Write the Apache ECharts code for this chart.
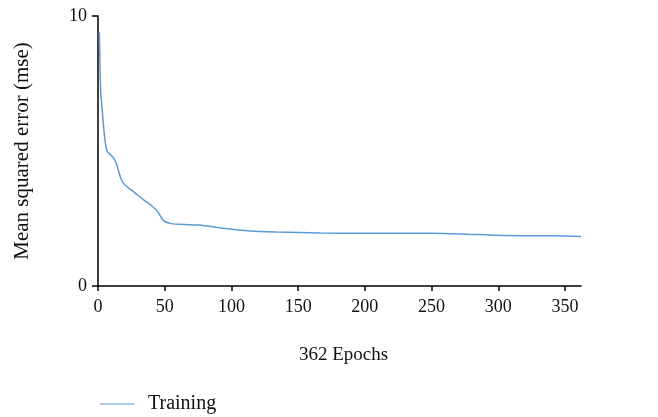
<!DOCTYPE html>
<html>
<head>
<meta charset="utf-8">
<script src="https://cdn.jsdelivr.net/npm/echarts@6/dist/echarts.min.js"></script>
<style>
  html, body { margin: 0; padding: 0; background: #fff; }
  #chart { width: 658px; height: 417px; }
</style>
</head>
<body>
<div id="chart"></div>
<script>
// Training loss curve (mean squared error per epoch)
const epochs = [1, 2, 3, 4, 5, 6, 7, 9, 12, 14, 17, 20, 27, 34, 40, 45, 49, 55, 64, 75, 82, 92, 114, 134, 167, 200, 250, 271, 303, 340, 362];
const mseValues = [9.4, 7.2, 6.6, 6.0, 5.5, 5.15, 4.98, 4.88, 4.72, 4.5, 4.0, 3.75, 3.48, 3.2, 2.98, 2.74, 2.42, 2.31, 2.28, 2.26, 2.22, 2.15, 2.04, 2.0, 1.96, 1.95, 1.95, 1.93, 1.87, 1.86, 1.83];
const seriesName = 'Training';
const xTitle = '362 Epochs';
const yTitle = 'Mean squared error (mse)';

const serif = 'Liberation Serif';
const points = epochs.map((e, i) => [e, mseValues[i]]);

const chart = echarts.init(document.getElementById('chart'), null, { renderer: 'canvas' });
chart.setOption({
  animation: false,
  backgroundColor: '#ffffff',
  textStyle: { fontFamily: serif },
  grid: { left: 98, right: 77, top: 16, bottom: 131, containLabel: false },
  legend: {
    left: 95, top: 389,
    itemWidth: 34, itemHeight: 10, itemGap: 10,
    textStyle: { fontFamily: serif, fontSize: 20, color: '#111', padding: [0, 0, 0, 9] },
    data: [{ name: seriesName, icon: 'path://M0,5 L34,5 L34,6 L0,6 Z' }]
  },
  xAxis: {
    type: 'value', min: 0, max: 362, interval: 50,
    name: xTitle, nameLocation: 'middle', nameGap: 60,
    nameTextStyle: { fontFamily: serif, fontSize: 19, color: '#111', padding: [0, 0, 0, 8] },
    axisLine: { onZero: false, lineStyle: { color: '#000', width: 1.5 } },
    axisTick: { show: true, length: 5, lineStyle: { color: '#000', width: 1.5 } },
    axisLabel: { fontFamily: serif, fontSize: 18, color: '#111', margin: 12, showMaxLabel: false },
    splitLine: { show: false }
  },
  yAxis: {
    type: 'value', min: 0, max: 10, interval: 10,
    name: yTitle, nameLocation: 'middle', nameGap: 65, nameRotate: 90,
    nameTextStyle: { fontFamily: serif, fontSize: 21, color: '#111' },
    axisLine: { show: true, lineStyle: { color: '#000', width: 1.5 } },
    axisTick: { show: true, length: 6, lineStyle: { color: '#000', width: 1.5 } },
    axisLabel: { fontFamily: serif, fontSize: 18, color: '#111', margin: 11 },
    splitLine: { show: false }
  },
  series: [{
    name: seriesName,
    type: 'line',
    data: points,
    showSymbol: false,
    smooth: 0.25,
    lineStyle: { color: '#5b9bd5', width: 1.5 },
    itemStyle: { color: '#5b9bd5' }
  }]
});
</script>
</body>
</html>
